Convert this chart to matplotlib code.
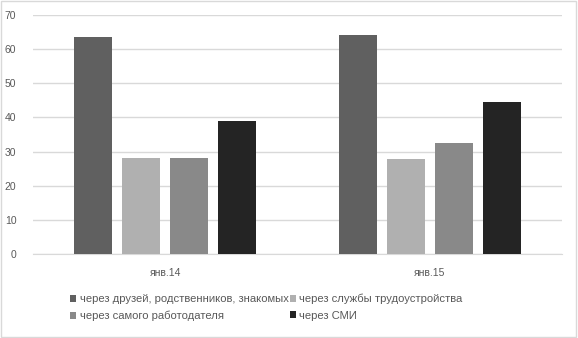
import matplotlib.pyplot as plt
import numpy as np

plt.rcParams['font.family'] = ['Liberation Sans', 'DejaVu Sans']

# данные
categories = ['янв.14', 'янв.15']
series_names = ['через друзей, родственников, знакомых',
                'через службы трудоустройства',
                'через самого работодателя',
                'через СМИ']
friends = [63.6, 64.1]
services = [28.2, 27.9]
employer = [28.2, 32.4]
media = [39.0, 44.4]
colors = ['#606060', '#b0b0b0', '#898989', '#242424']

fig = plt.figure(figsize=(5.78, 3.38), dpi=100, facecolor='white')
ax = fig.add_axes([33 / 578, 1 - 254 / 338, (562 - 33) / 578, (254 - 15) / 338])

x = np.arange(len(categories))
width = 38 / 264
step = 48 / 264
values = [friends, services, employer, media]
bars = []
for i, vals in enumerate(values):
    b = ax.bar(x + (i - 1.5) * step, vals, width, color=colors[i], zorder=3)
    bars.append(b)

ax.set_xlim(-0.5, 1.5)
ax.set_ylim(0, 70)
ax.set_yticks(range(0, 71, 10))
ax.grid(axis='y', color='#d9d9d9', linewidth=1, zorder=0)
ax.set_xticks(x)
ax.set_xticklabels(categories)
ax.tick_params(axis='both', length=0, labelsize=7.5, colors='#595959', pad=10)
ax.tick_params(axis='y', pad=12)
for s in ['top', 'right', 'left']:
    ax.spines[s].set_visible(False)
ax.spines['bottom'].set_color('#d9d9d9')

# легенда: порядок как в Excel (по строкам)
order = [0, 2, 1, 3]
fig.legend([bars[i] for i in order], [series_names[i] for i in order],
           ncol=2, loc='upper left', bbox_to_anchor=(70 / 578, 1 - 294 / 338),
           frameon=False, fontsize=8.1, handlelength=0.55, handleheight=0.55,
           handletextpad=0.3, columnspacing=0.1, labelcolor='#595959',
           borderaxespad=0, borderpad=0, labelspacing=0.55)

# рамка вокруг рисунка
fig.patches.append(plt.Rectangle((0.002, 0.003), 0.995, 0.994, transform=fig.transFigure,
                                 fill=False, edgecolor='#d9d9d9', linewidth=1))

plt.savefig('out.png', dpi=100, facecolor='white')
